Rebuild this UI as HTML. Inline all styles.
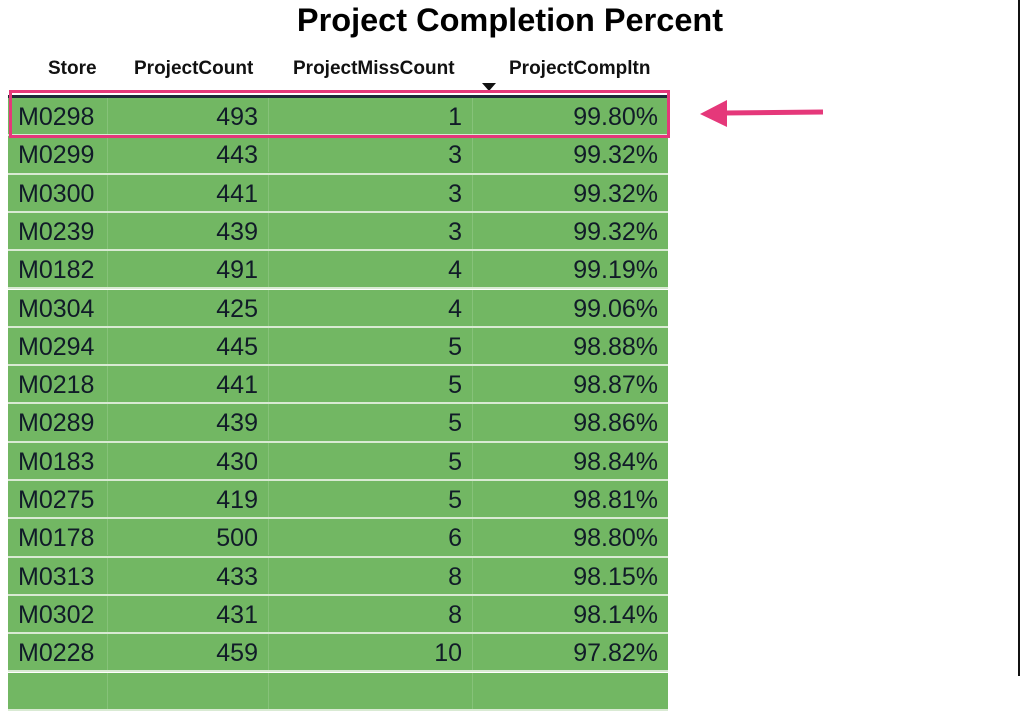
<!DOCTYPE html>
<html><head><meta charset="utf-8"><style>
body{margin:0;width:1023px;height:676px;background:#fff;overflow:hidden;position:relative;font-family:"Liberation Sans",sans-serif;}
#title{position:absolute;left:0;width:1020px;top:2px;text-align:center;font-size:32.5px;font-weight:bold;color:#000;}
.hdr{position:absolute;top:58px;font-size:19px;font-weight:bold;color:#111;}
#rows{position:absolute;left:8px;top:98px;width:660px;}
.row{position:absolute;left:0;width:660px;height:36.3px;background:#72b763;border-bottom:2px solid #d9ead3;}
.c{position:absolute;top:0;height:36px;line-height:38px;font-size:25px;color:#111b28;}
.sep{position:absolute;top:0;height:36px;width:1px;background:#86c279;}
</style></head><body>
<div id="title">Project Completion Percent</div>
<div class="hdr" style="left:48px">Store</div>
<div class="hdr" style="left:134px">ProjectCount</div>
<div class="hdr" style="left:293px">ProjectMissCount</div>
<div class="hdr" style="left:509px">ProjectCompltn</div>
<svg style="position:absolute;left:482px;top:83px" width="14" height="9"><polygon points="0,0 14,0 7,8" fill="#111"/></svg>
<div style="position:absolute;left:8px;top:95px;width:660px;height:3px;background:#1d2a38"></div>
<div id="rows"></div>
<div style="position:absolute;left:9px;top:90px;width:655px;height:42px;border:3px solid #e5387a"></div>
<svg style="position:absolute;left:690px;top:95px" width="140" height="40"><line x1="34" y1="18" x2="133" y2="17" stroke="#e5387a" stroke-width="5"/><polygon points="10,19 37,5 37,32" fill="#e5387a"/></svg>
<div style="position:absolute;left:1018px;top:0;width:2px;height:676px;background:#111"></div>
<script>
const stores=["M0298","M0299","M0300","M0239","M0182","M0304","M0294","M0218","M0289","M0183","M0275","M0178","M0313","M0302","M0228",""];
const counts=["493","443","441","439","491","425","445","441","439","430","419","500","433","431","459",""];
const misses=["1","3","3","3","4","4","5","5","5","5","5","6","8","8","10",""];
const pcts=["99.80%","99.32%","99.32%","99.32%","99.19%","99.06%","98.88%","98.87%","98.86%","98.84%","98.81%","98.80%","98.15%","98.14%","97.82%",""];
const rows=document.getElementById('rows');
stores.forEach((s,i)=>{
 const r=document.createElement('div');
 r.className='row';r.style.top=(i*38.3)+'px';
 
 
 r.innerHTML='<div class="sep" style="left:99px"></div><div class="sep" style="left:260px"></div><div class="sep" style="left:464px"></div>'+
 '<div class="c" style="left:10px">'+s+'</div>'+
 '<div class="c" style="right:410px">'+counts[i]+'</div>'+
 '<div class="c" style="right:206px">'+misses[i]+'</div>'+
 '<div class="c" style="right:10px">'+pcts[i]+'</div>';
 rows.appendChild(r);
});
</script>
</body></html>
